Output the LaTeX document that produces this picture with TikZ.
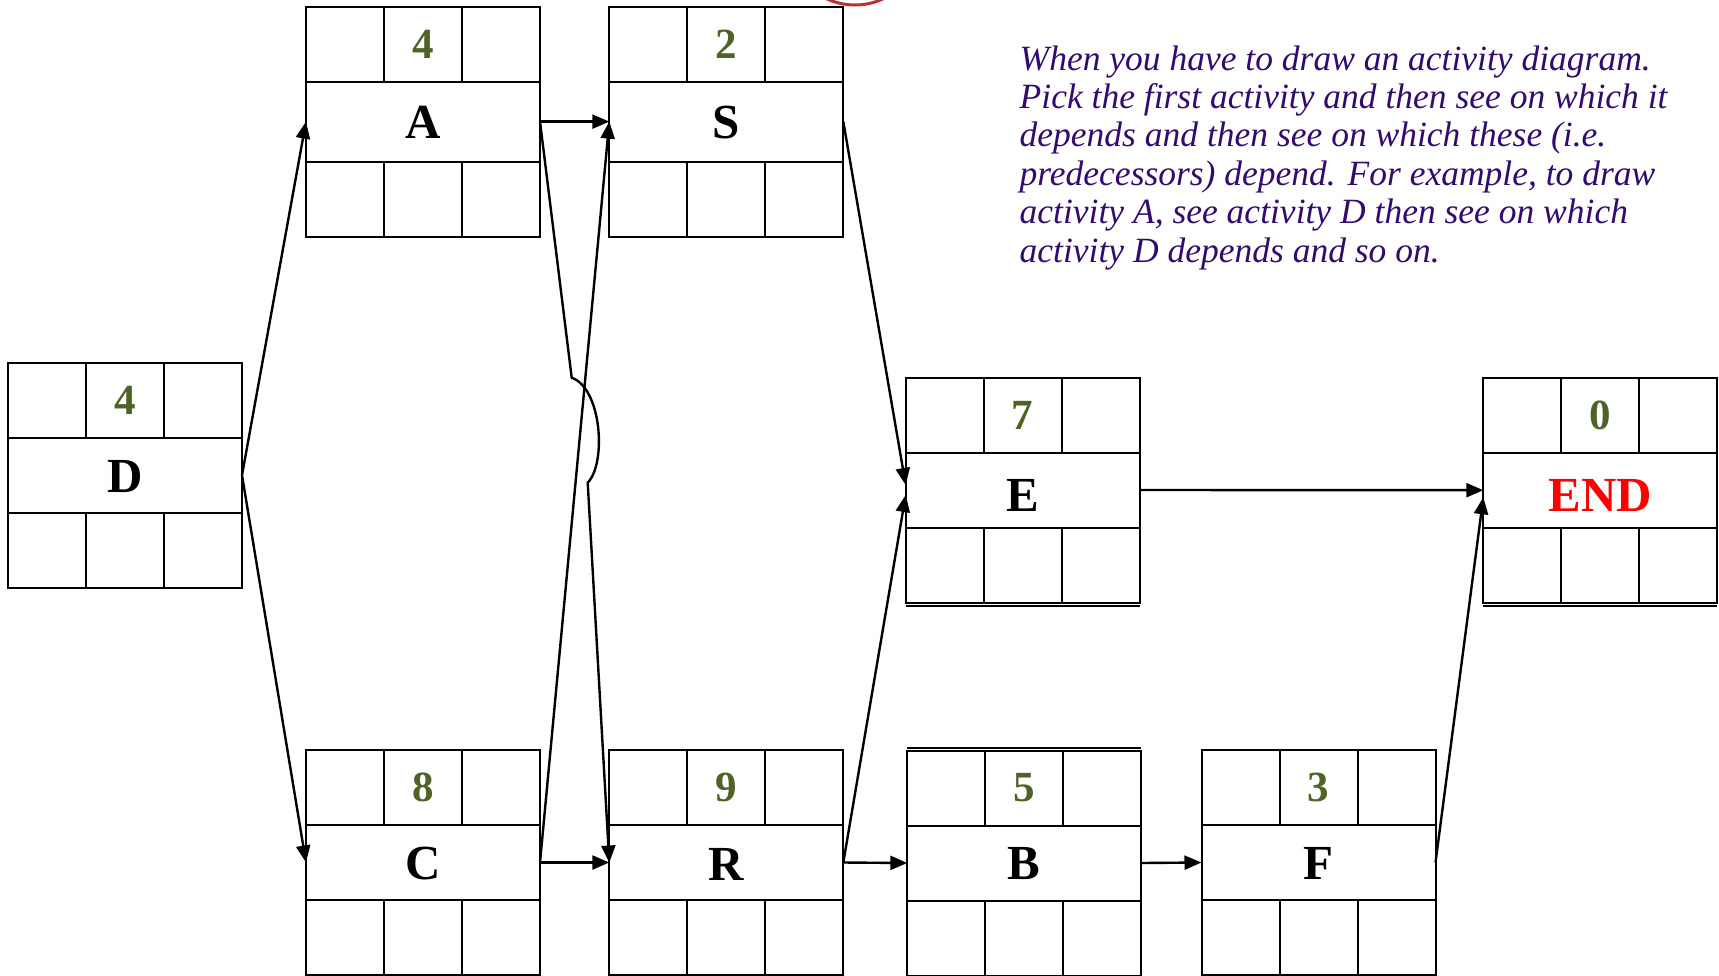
\documentclass[tikz,border=0pt]{standalone}
\usepackage{fontspec}
\setmainfont{Liberation Serif}
\usetikzlibrary{arrows.meta}
\definecolor{numgreen}{HTML}{4F6228}
\definecolor{notepurple}{HTML}{330A6E}
\definecolor{circred}{HTML}{B83232}
\tikzset{
  gridln/.style={draw=black, line width=2pt},
  midrow/.style={draw=none, inner sep=0pt, outer sep=0pt, minimum width=234pt},
  lbltxt/.style={inner sep=0pt, font=\fontsize{49}{51}\selectfont\bfseries},
  numtxt/.style={inner sep=0pt, text=numgreen, font=\fontsize{43}{45}\selectfont\bfseries},
  conn/.style={draw=black, line width=2.4pt, -{Triangle[length=17pt,width=14pt]}},
  notetxt/.style={anchor=base west, inner sep=0pt, text=notepurple,
    font=\fontsize{35.5}{38}\selectfont\itshape}
}
% #1 name, #2 left, #3 top, #4 number, #5 label, #6 middle-row height, #7 label offset
\newcommand\actbox[7]{%
  \draw[gridln] (#2,#3) rectangle (#2+234,#3+150+#6);
  \draw[gridln] (#2,#3+75) -- ++(234,0) (#2,#3+75+#6) -- ++(234,0);
  \draw[gridln] (#2+78,#3) -- ++(0,75) (#2+156,#3) -- ++(0,75)
                (#2+78,#3+75+#6) -- ++(0,75) (#2+156,#3+75+#6) -- ++(0,75);
  \node[midrow, minimum height=#6 pt, anchor=north west] (#1) at (#2,#3+75) {};
  \node[lbltxt] (#1lbl) at (#2+117,#3+75+#6/2+#7) {#5};
  \node[numtxt] (#1num) at (#2+117,#3+37.5) {#4};
}
\begin{document}
\begin{tikzpicture}[x=1pt,y=-1pt]
\useasboundingbox (0,0) rectangle (1719,975);
\fill[white] (0,0) rectangle (1719,975);

% red circle partly visible at the top
\draw[circred, line width=3pt] (855,-62) circle[radius=67pt];

% activity boxes
\actbox{A}{306}{6.6}{4}{A}{80}{1}
\actbox{S}{609.3}{6.6}{2}{S}{80}{1}
\actbox{D}{8}{362.7}{4}{D}{75}{1.5}
\actbox{E}{905.7}{377.5}{7}{E}{75}{5.5}
\actbox{END}{1483.3}{377.7}{0}{\textcolor{red}{END}}{75}{5.5}
\actbox{C}{306}{750}{8}{C}{75}{1}
\actbox{R}{609.3}{750}{9}{R}{75}{2}
\actbox{B}{907.3}{750.5}{5}{B}{75}{1}
\actbox{F}{1201.5}{750}{3}{F}{75}{1}

% doubled edges
\draw[gridln] (905.7,606) -- ++(234,0);
\draw[gridln] (1483.3,606.2) -- ++(234,0);
\draw[gridln] (907.3,748.4) -- ++(234,0);

% connectors
\draw[conn] (D.east) -- (A.west);
\draw[conn] (D.east) -- (C.west);
\draw[conn] (A.east) -- (S.west);
\coordinate (jmpa) at (571.7,377.7);
\coordinate (jmpb) at (587.7,482.7);
\draw[conn] (A.east) -- (jmpa) .. controls (601.7,388.3) and (606.7,463.3) .. (jmpb) -- (R.west);
\draw[conn] (C.east) -- (S.west);
\draw[conn] (C.east) -- (R.west);
\draw[conn] (S.east) -- ([yshift=5pt]E.west);
\draw[conn] (R.east) -- ([yshift=-5pt]E.west);
\draw[conn] (R.east) -- (B.west);
\draw[conn] (B.east) -- (F.west);
\draw[conn] (E.east) -- (END.west);
\draw[conn] (F.east) -- ([yshift=-7pt]END.west);

% note
\node[notetxt] (txt1) at (1019.5,70) {When you have to draw an activity diagram.};
\node[notetxt] (txt2) at (1019.5,108.4) {Pick the first activity and then see on which it};
\node[notetxt] (txt3) at (1019.5,146.8) {depends and then see on which these (i.e.};
\node[notetxt] (txt4) at (1019.5,185.2) {predecessors) depend. For example, to draw};
\node[notetxt] (txt5) at (1019.5,223.6) {activity A, see activity D then see on which};
\node[notetxt] (txt6) at (1019.5,262) {activity D depends and so on.};
\end{tikzpicture}
\end{document}
